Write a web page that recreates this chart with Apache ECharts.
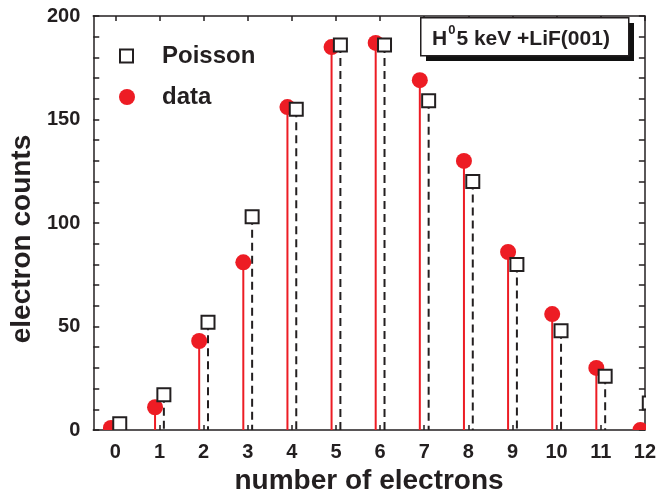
<!DOCTYPE html>
<html>
<head>
<meta charset="utf-8">
<script src="https://cdn.jsdelivr.net/npm/echarts@6/dist/echarts.min.js"></script>
<style>
html,body{margin:0;padding:0;background:#fff;}
#c{width:659px;height:504px;}
</style>
</head>
<body>
<div id="c"></div>
<script>
// ---- data ----
const electronNumbers = [0,1,2,3,4,5,6,7,8,9,10,11,12];
const dataCounts     = [1,11,43,81,156,185,187,169,130,86,56,30,0];
const poissonCounts  = [3,17,52,103,155,186,186,159,120,80,48,26,13];
const xTickValues = [0,1,2,3,4,5,6,7,8,9,10,11,12];
const dataShift = -0.1;     // measured points drawn slightly left of integer
const poissonShift = 0.1;   // Poisson values drawn slightly right

const FONT = '"Liberation Sans", Arial, Helvetica, sans-serif';
const INK = '#231f20';
const RED = '#ed1c24';

const dataPts = electronNumbers.map((n,i)=>[n+dataShift, dataCounts[i]]);
const poisPts = electronNumbers.map((n,i)=>[n+poissonShift, poissonCounts[i]]);

function stem(color, dash){
  return function(params, api){
    const x = api.value(0), y = api.value(1);
    const p1 = api.coord([x,y]);
    const p0 = api.coord([x,0]);
    return {type:'line', shape:{x1:p1[0],y1:p1[1],x2:p0[0],y2:p0[1]},
      style:{stroke:color, lineWidth:2, lineDash:dash||null}};
  };
}
function dot(params, api){
  const p = api.coord([api.value(0), api.value(1)]);
  return {type:'circle', shape:{cx:p[0], cy:p[1], r:8}, style:{fill:RED}};
}
function box(params, api){
  const p = api.coord([api.value(0), api.value(1)]);
  return {type:'rect', shape:{x:p[0]-6.5, y:p[1]-6.5, width:13, height:13},
    style:{fill:'#fff', stroke:INK, lineWidth:2}};
}

const axisLine = {show:true, onZero:false, lineStyle:{color:INK, width:1.5}};
const chart = echarts.init(document.getElementById('c'), null, {renderer:'canvas'});
chart.setOption({
  animation:false,
  backgroundColor:'#fff',
  textStyle:{fontFamily:FONT},
  grid:{left:89, right:13, top:16, bottom:74},
  legend:[
    {data:[{name:'Poisson', icon:'rect', itemStyle:{color:'#fff', borderColor:INK, borderWidth:2}}],
     left:114, top:39, itemWidth:13, itemHeight:13, orient:'vertical',
     textStyle:{fontSize:24, fontWeight:'bold', color:INK, fontFamily:FONT, padding:[0,0,0,24]}},
    {data:[{name:'data', icon:'circle', itemStyle:{color:RED}}],
     left:114, top:80, itemWidth:16, itemHeight:16, orient:'vertical',
     textStyle:{fontSize:24, fontWeight:'bold', color:INK, fontFamily:FONT, padding:[0,0,0,22]}}
  ],
  xAxis:[
    {type:'value', min:-0.5, max:12, position:'bottom',
     axisLine:axisLine,
     axisTick:{show:true, inside:true, length:5, customValues:xTickValues, lineStyle:{color:INK,width:1.5}},
     axisLabel:{customValues:xTickValues, fontSize:20, fontWeight:'bold', color:INK, margin:12, fontFamily:FONT},
     splitLine:{show:false},
     name:'number of electrons', nameLocation:'middle', nameGap:32,
     nameTextStyle:{fontSize:28, fontWeight:'bold', color:INK, fontFamily:FONT}},
    {type:'value', min:-0.5, max:12, position:'top',
     axisLine:axisLine,
     axisTick:{show:true, inside:true, length:5, customValues:xTickValues, lineStyle:{color:INK,width:1.5}},
     axisLabel:{show:false}, splitLine:{show:false}}
  ],
  yAxis:[
    {type:'value', min:0, max:200, interval:50, position:'left',
     axisLine:axisLine,
     axisTick:{show:true, inside:true, length:6, lineStyle:{color:INK,width:1.5}},
     minorTick:{show:true, splitNumber:5, length:6, lineStyle:{color:INK,width:1.5}},
     axisLabel:{fontSize:20, fontWeight:'bold', color:INK, margin:13, fontFamily:FONT},
     splitLine:{show:false}, minorSplitLine:{show:false},
     name:'electron counts', nameLocation:'middle', nameGap:44,
     nameTextStyle:{fontSize:28, fontWeight:'bold', color:INK, fontFamily:FONT, padding:[0,32,0,0]}},
    {type:'value', min:0, max:200, interval:50, position:'right',
     axisLine:axisLine,
     axisTick:{show:true, inside:true, length:6, lineStyle:{color:INK,width:1.5}},
     minorTick:{show:true, splitNumber:5, length:6, lineStyle:{color:INK,width:1.5}},
     axisLabel:{show:false}, splitLine:{show:false}, minorSplitLine:{show:false}}
  ],
  series:[
    {type:'custom', name:'dataStem', xAxisIndex:0, yAxisIndex:0, data:dataPts,
     renderItem:stem(RED), clip:true, z:2, encode:{x:0,y:1}},
    {type:'custom', name:'poisStem', xAxisIndex:0, yAxisIndex:0, data:poisPts,
     renderItem:stem(INK,[8,5]), clip:true, z:2, encode:{x:0,y:1}},
    {type:'custom', name:'data', xAxisIndex:0, yAxisIndex:0, data:dataPts,
     renderItem:dot, clip:true, z:3, encode:{x:0,y:1}, itemStyle:{color:RED}},
    {type:'custom', name:'Poisson', xAxisIndex:0, yAxisIndex:0, data:poisPts,
     renderItem:box, clip:true, z:4, encode:{x:0,y:1}, itemStyle:{color:'#fff', borderColor:INK}}
  ],
  graphic:[
    {type:'rect', left:426, top:23, shape:{width:208, height:38}, style:{fill:'#111'}, z:10},
    {type:'rect', left:420, top:17, shape:{width:208, height:38}, style:{fill:'#fff', stroke:INK, lineWidth:1.5}, z:11},
    {type:'text', left:432, top:24, z:12,
     style:{text:'{a|H}{s|0}{a|5 keV +LiF(001)}',
       rich:{
         a:{fontSize:21, fontWeight:'bold', fill:INK, fontFamily:FONT, lineHeight:26, verticalAlign:'bottom'},
         s:{fontSize:13, fontWeight:'bold', fill:INK, fontFamily:FONT, lineHeight:26, verticalAlign:'top', padding:[0,1,0,1]}
       }}}
  ]
});
</script>
</body>
</html>
